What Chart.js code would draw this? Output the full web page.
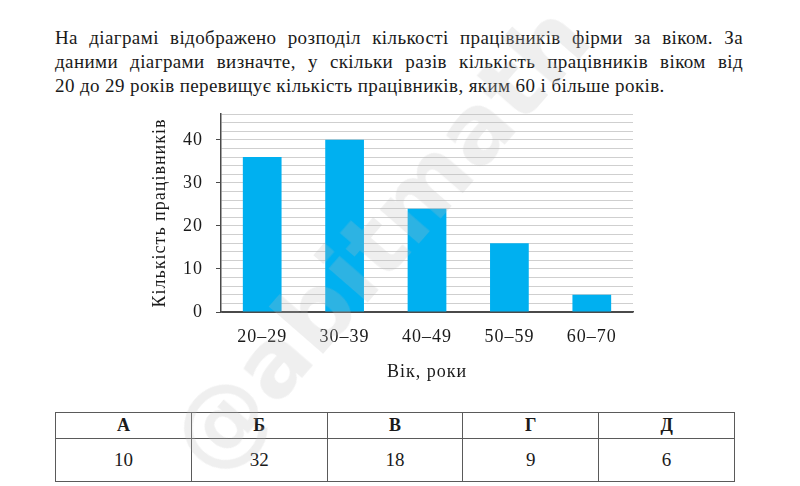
<!DOCTYPE html>
<html lang="uk">
<head>
<meta charset="UTF-8">
<title>Розподіл працівників за віком</title>
<script src="https://cdn.jsdelivr.net/npm/chart.js"></script>
<style>
  html, body { margin: 0; padding: 0; background: #fff; }
  body { width: 800px; height: 486px; position: relative; overflow: hidden; }
  #task {
    position: absolute; left: 55px; top: 26px; width: 688px; margin: 0;
    font-family: "Liberation Serif", serif; font-size: 19px; line-height: 24px;
    color: #1a1a1a; letter-spacing: 0.4px;
  }
  #task span { display: block; white-space: nowrap; }
  #task span.just { text-align: justify; text-align-last: justify; }
  #chartBox { position: absolute; left: 140px; top: 100px; width: 510px; height: 290px; }
  #answers {
    position: absolute; left: 55px; top: 412px; width: 680px;
    border-collapse: collapse; font-family: "Liberation Serif", serif; color: #1a1a1a;
  }
  #answers td { border: 1px solid #5a5a5a; text-align: center; width: 20%; padding: 0; }
  #answers tr.head td { height: 25px; font-weight: bold; font-size: 18px; }
  #answers tr.vals td { height: 42px; font-size: 19px; }
  #watermark {
    position: absolute; left: 189px; top: 411px; height: 95px; line-height: 95px;
    transform: rotate(-49deg); transform-origin: 0 50%;
    font-family: "DejaVu Sans", sans-serif; font-weight: bold; font-size: 95px;
    color: rgba(190, 190, 190, 0.24); pointer-events: none; white-space: nowrap;
  }
</style>
</head>
<body>
  <p id="task">
    <span class="just">На діаграмі відображено розподіл кількості працівників фірми за віком. За</span>
    <span class="just">даними діаграми визначте, у скільки разів кількість працівників віком від</span>
    <span>20 до 29 років перевищує кількість працівників, яким 60 і більше років.</span>
  </p>

  <div id="chartBox"><canvas id="myChart"></canvas></div>

  <table id="answers">
    <tr class="head" id="answerLetters"></tr>
    <tr class="vals" id="answerValues"></tr>
  </table>

  <div id="watermark">@abitmath</div>

<script>
  // дані діаграми
  const ageGroups = ['20–29', '30–39', '40–49', '50–59', '60–70'];
  const workers = [36, 40, 24, 16, 4];
  const yMax = 46;

  // варіанти відповідей
  const answerLetters = ['А', 'Б', 'В', 'Г', 'Д'];
  const answerValues = ['10', '32', '18', '9', '6'];

  // таблиця відповідей
  document.getElementById('answerLetters').innerHTML = answerLetters.map(s => `<td>${s}</td>`).join('');
  document.getElementById('answerValues').innerHTML = answerValues.map(s => `<td>${s}</td>`).join('');

  // шрифт для всього графіка
  Chart.defaults.font.family = "'Liberation Serif', serif";
  Chart.defaults.font.size = 18;
  Chart.defaults.color = '#1a1a1a';

  // трохи ширший текст, як у підручнику
  const wideText = {
    id: 'wideText',
    beforeDraw: chart => { chart.ctx.letterSpacing = '1px'; },
    afterDraw: chart => { chart.ctx.letterSpacing = '0px'; },
  };

  const ctx = document.getElementById('myChart').getContext('2d');
  const myChart = new Chart(ctx, {
    type: 'bar',
    data: {
      labels: ageGroups,
      datasets: [{
        data: workers,
        backgroundColor: '#00b0f0',
        borderWidth: 0,
        barPercentage: 0.47,
        categoryPercentage: 1,
      }],
    },
    options: {
      responsive: true,
      maintainAspectRatio: false,
      animation: false,
      layout: { padding: { left: 0, right: 17, top: 14, bottom: 0 } },
      plugins: { legend: { display: false }, tooltip: { enabled: false } },
      scales: {
        x: {
          grid: { display: false },
          border: { display: true, color: '#4a4a4a', width: 1.5 },
          ticks: { padding: 6 },
          title: { display: true, text: 'Вік, роки', padding: { top: 0, bottom: 7 } },
          afterFit: s => { s.height = 78; s.paddingLeft = 0; s.paddingRight = 0; },
        },
        y: {
          min: 0,
          max: yMax,
          ticks: {
            stepSize: 2,
            autoSkip: false,
            padding: 13,
            callback: v => (v % 10 === 0 ? v : ''),
          },
          grid: {
            color: ctx => (ctx.tick && ctx.tick.value === 0 ? '#4a4a4a' : '#cfcfcf'),
            tickColor: ctx => (ctx.tick && ctx.tick.value % 10 === 0 ? '#4a4a4a' : 'rgba(0,0,0,0)'),
            tickLength: 5,
            lineWidth: 1,
          },
          border: { display: true, color: '#4a4a4a', width: 1.5 },
          title: { display: true, text: 'Кількість працівників', padding: { top: 9, bottom: 0 } },
          afterFit: s => { s.width = 81; s.paddingTop = 0; s.paddingBottom = 0; },
        },
      },
    },
    plugins: [wideText],
  });
</script>
</body>
</html>
